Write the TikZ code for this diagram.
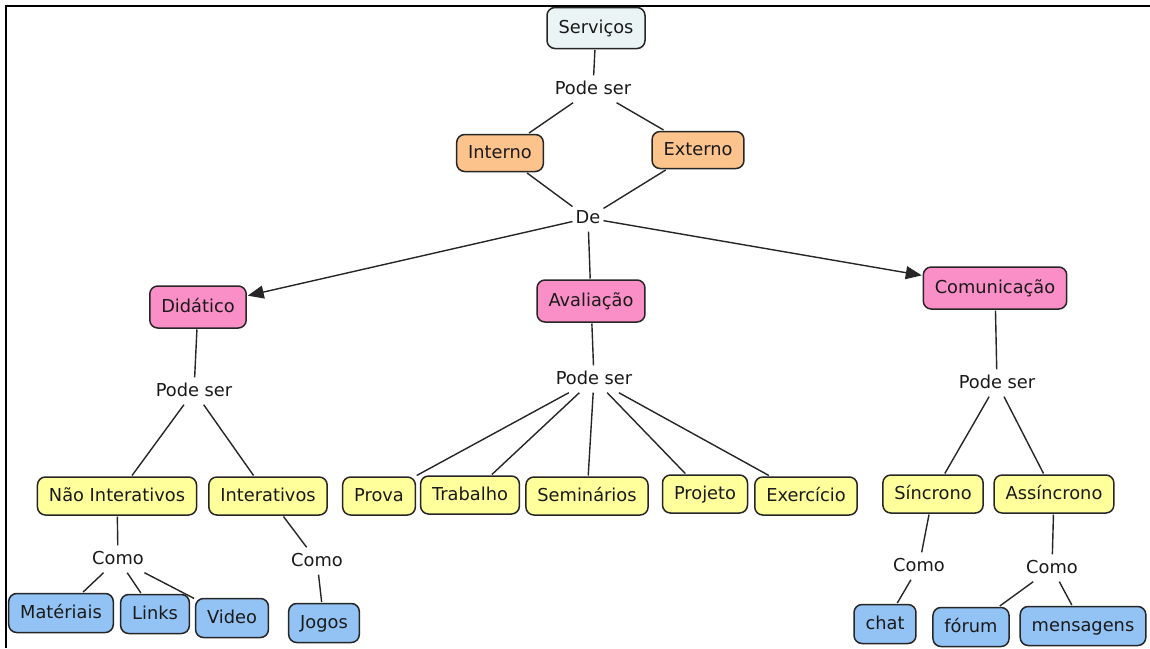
\documentclass[tikz,border=0pt]{standalone}
\usepackage{fontspec}
\setmainfont{DejaVu Sans}
\usetikzlibrary{arrows.meta}
\definecolor{edge}{HTML}{262626}
\definecolor{txt}{HTML}{1A1A1A}
\definecolor{topc}{HTML}{EAF4F4}
\definecolor{orangec}{HTML}{FCC38D}
\definecolor{pinkc}{HTML}{F98FC6}
\definecolor{yellowc}{HTML}{FFFF9C}
\definecolor{bluec}{HTML}{93C3F4}
\begin{document}
\begin{tikzpicture}[x=1pt,y=-1pt,
  every node/.style={font=\fontsize{17.8}{20}\selectfont, text=txt},
  box/.style={draw=edge, line width=1.5pt, rounded corners=8pt, inner xsep=11.5pt, inner ysep=0pt,
    text height=14pt, text depth=3pt, minimum height=38pt, outer sep=1.5pt},
  topbox/.style={box, fill=topc, minimum height=41pt},
  orangebox/.style={box, fill=orangec, minimum height=37pt},
  pinkbox/.style={box, fill=pinkc, minimum height=42pt},
  yellowbox/.style={box, fill=yellowc, minimum height=38pt},
  bluebox/.style={box, fill=bluec, minimum height=39pt},
  lbl/.style={inner xsep=3pt, inner ysep=5pt, text height=14pt, text depth=3pt},
  conn/.style={draw=edge, line width=1.4pt},
  arr/.style={conn, -{Triangle[length=16pt,width=13pt]}}
]
\useasboundingbox (0,0) rectangle (1150,648);
\fill[white] (0,0) rectangle (1150,648);
\coordinate (bl) at (6,648);
\coordinate (tl) at (6,6);
\coordinate (tr) at (1150,6);
\draw[line width=2.6pt, black] (bl) -- (tl) -- (tr);

% nodes
\node[topbox] (serv) at (596,28) {Serviços};
\node[lbl] (ps1) at (593,89) {Pode ser};
\node[orangebox] (int) at (500,153) {Interno};
\node[orangebox] (ext) at (698,150) {Externo};
\node[lbl] (de) at (588,218) {De};
\node[pinkbox] (did) at (198,307) {Didático};
\node[pinkbox] (ava) at (591,301) {Avaliação};
\node[pinkbox] (com) at (995,288) {Comunicação};
\node[lbl] (psL) at (194,391) {Pode ser};
\node[lbl] (psM) at (594,379) {Pode ser};
\node[lbl] (psR) at (997,383) {Pode ser};
\node[yellowbox] (nint) at (117,496) {Não Interativos};
\node[yellowbox] (inte) at (268,496) {Interativos};
\node[yellowbox] (prova) at (379,496) {Prova};
\node[yellowbox] (trab) at (470,495) {Trabalho};
\node[yellowbox] (sem) at (587,496) {Seminários};
\node[yellowbox] (proj) at (705,494) {Projeto};
\node[yellowbox] (exer) at (806,496) {Exercício};
\node[yellowbox] (sinc) at (933,494) {Síncrono};
\node[yellowbox] (assi) at (1054,494) {Assíncrono};
\node[lbl] (como1) at (118,559) {Como};
\node[lbl] (como2) at (317,561) {Como};
\node[lbl] (como3) at (919,566) {Como};
\node[lbl] (como4) at (1052,568) {Como};
\node[bluebox] (mat) at (61,613) {Matériais};
\node[bluebox] (links) at (155,614) {Links};
\node[bluebox] (video) at (232,618) {Video};
\node[bluebox] (jogos) at (324,623) {Jogos};
\node[bluebox] (chat) at (885,624) {chat};
\node[bluebox] (forum) at (971,627) {fórum};
\node[bluebox] (msg) at (1083,626) {mensagens};

% connectors
\draw[conn] (serv) -- (ps1);
\draw[conn] (ps1) -- (int);
\draw[conn] (ps1) -- (ext);
\draw[conn] (int) -- (de);
\draw[conn] (ext) -- (de);
\draw[arr] (de) -- (did);
\draw[conn] (de) -- (ava);
\draw[arr] (de) -- (com);
\draw[conn] (did) -- (psL);
\draw[conn] (psL) -- (nint);
\draw[conn] (psL) -- (inte);
\draw[conn] (ava) -- (psM);
\draw[conn] (psM) -- (prova);
\draw[conn] (psM) -- (trab);
\draw[conn] (psM) -- (sem);
\draw[conn] (psM) -- (proj);
\draw[conn] (psM) -- (exer);
\draw[conn] (com) -- (psR);
\draw[conn] (psR) -- (sinc);
\draw[conn] (psR) -- (assi);
\draw[conn] (nint) -- (como1);
\draw[conn] (como1) -- (mat);
\draw[conn] (como1) -- (links);
\draw[conn] (como1) -- (video);
\draw[conn] (inte) -- (como2);
\draw[conn] (como2) -- (jogos);
\draw[conn] (sinc) -- (como3);
\draw[conn] (como3) -- (chat);
\draw[conn] (assi) -- (como4);
\draw[conn] (como4) -- (forum);
\draw[conn] (como4) -- (msg);
\end{tikzpicture}
\end{document}
